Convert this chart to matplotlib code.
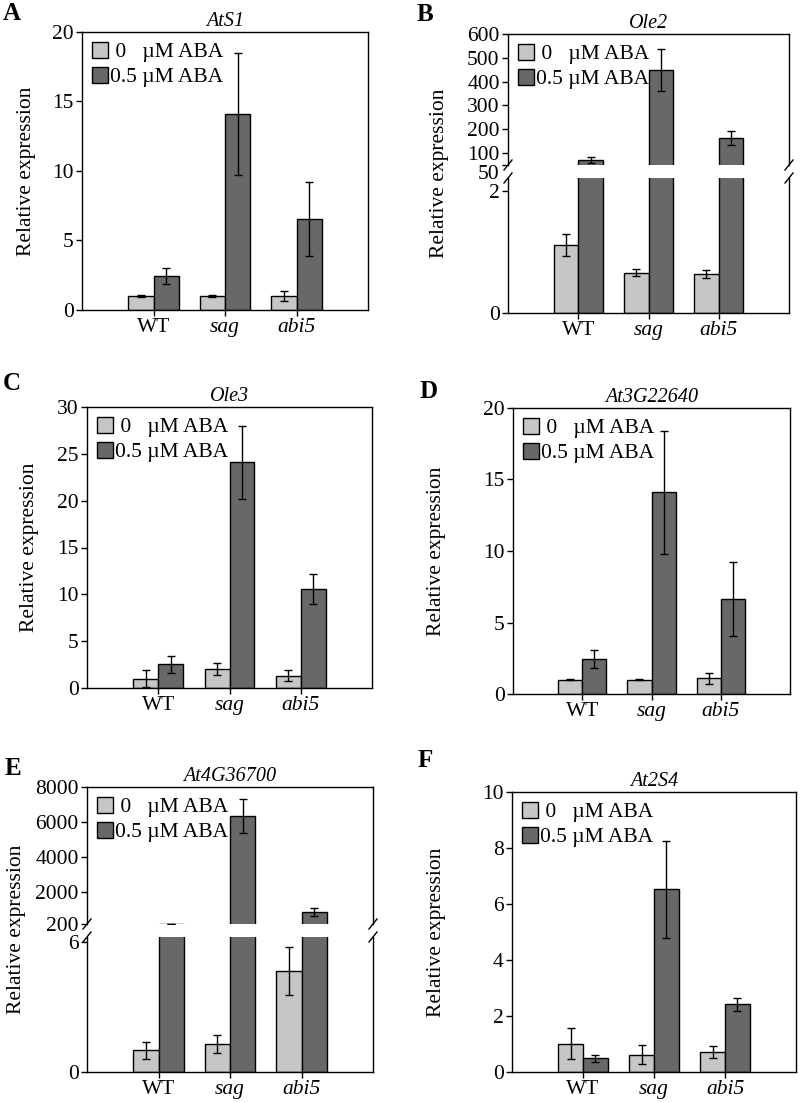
import matplotlib
matplotlib.use("Agg")
import matplotlib.pyplot as plt
import numpy as np
from matplotlib.lines import Line2D

plt.rcParams['font.family'] = ['Liberation Serif', 'DejaVu Serif']
plt.rcParams['font.size'] = 15.5

genotypes = ["WT", "sag", "abi5"]
labels = [" 0   \u00b5M ABA", "0.5 \u00b5M ABA"]

ats1_ctrl = [1.0, 1.0, 1.0]
ats1_ctrl_err = [0.05, 0.05, 0.35]
ats1_aba = [2.45, 14.1, 6.55]
ats1_aba_err = [0.6, 4.4, 2.65]

ole2_ctrl = [1.11, 0.66, 0.64]
ole2_ctrl_err = [0.18, 0.06, 0.07]
ole2_aba = [71, 449, 163]
ole2_aba_err = [14, 87, 30]

ole3_ctrl = [1.0, 2.03, 1.32]
ole3_ctrl_err = [0.9, 0.62, 0.55]
ole3_aba = [2.53, 24.1, 10.6]
ole3_aba_err = [0.9, 3.9, 1.6]

at3g_ctrl = [1.0, 1.0, 1.1]
at3g_ctrl_err = [0.05, 0.03, 0.37]
at3g_aba = [2.45, 14.1, 6.65]
at3g_aba_err = [0.6, 4.3, 2.6]

at4g_ctrl = [1.0, 1.3, 4.67]
at4g_ctrl_err = [0.4, 0.42, 1.1]
at4g_aba = [220, 6370, 900]
at4g_aba_err = [0, 970, 220]

at2s4_ctrl = [1.01, 0.62, 0.72]
at2s4_ctrl_err = [0.56, 0.35, 0.21]
at2s4_aba = [0.49, 6.52, 2.42]
at2s4_aba_err = [0.13, 1.73, 0.23]

LIGHT = "#c6c6c6"
DARK = "#686868"
W = 0.35
FW, FH = 800, 1103

fig = plt.figure(figsize=(8, 11.03), dpi=100)


def px_axes(left, top, right, bottom):
    return fig.add_axes([left / FW, 1 - bottom / FH, (right - left) / FW, (bottom - top) / FH])


def draw_bars(ax, ctrl, ctrl_err, aba, aba_err):
    x = np.arange(len(genotypes))
    ekw = dict(ecolor="black", elinewidth=1, capsize=3, capthick=1)
    ax.bar(x - W / 2, ctrl, W, yerr=ctrl_err, color=LIGHT, edgecolor="black",
           linewidth=1, error_kw=ekw, label=labels[0])
    ax.bar(x + W / 2, aba, W, yerr=aba_err, color=DARK, edgecolor="black",
           linewidth=1, error_kw=ekw, label=labels[1])
    ax.set_xlim(-1.0, 3.0)
    ax.tick_params(direction="out", length=4, width=1, pad=2)
    for s in ax.spines.values():
        s.set_linewidth(1)


def set_xlabels(ax):
    ax.set_xticks(np.arange(len(genotypes)))
    ax.set_xticklabels(genotypes)
    for t in ax.get_xticklabels():
        if t.get_text() != "WT":
            t.set_fontstyle("italic")


def add_legend(ax):
    ax.legend(loc="upper left", frameon=False, handlelength=0.75, handleheight=0.77,
              handletextpad=0.1, labelspacing=0.2, borderaxespad=0.25,
              borderpad=0.2)


def place_ylabel(ax, left, right, top, bottom, center_px, y_frac):
    ax.set_ylabel("Relative expression")
    ax.yaxis.set_label_coords((center_px + 11 - left) / (right - left), y_frac)


def simple_panel(box, ctrl, ctrl_err, aba, aba_err, ymax, step, title, label_px):
    left, top, right, bottom = box
    ax = px_axes(*box)
    draw_bars(ax, ctrl, ctrl_err, aba, aba_err)
    ax.set_ylim(0, ymax)
    ax.set_yticks(np.arange(0, ymax + step / 2, step))
    set_xlabels(ax)
    place_ylabel(ax, left, right, top, bottom, label_px, 0.5)
    ax.set_title(title, fontstyle="italic", fontsize=14.5, pad=4)
    add_legend(ax)
    return ax


def broken_panel(left, right, top, mid_hi, mid_lo, bottom, ctrl, ctrl_err, aba, aba_err,
                 lo_max, lo_ticks, hi_lim, hi_ticks, title, label_px, shift_first=False):
    ax_hi = px_axes(left, top, right, mid_hi)
    ax_lo = px_axes(left, mid_lo, right, bottom)
    for ax in (ax_hi, ax_lo):
        draw_bars(ax, ctrl, ctrl_err, aba, aba_err)
    ax_lo.set_ylim(0, lo_max)
    ax_lo.set_yticks(lo_ticks)
    ax_hi.set_ylim(*hi_lim)
    ax_hi.set_yticks(hi_ticks)
    if shift_first:
        ax_hi.yaxis.get_major_ticks()[0].label1.set_verticalalignment("top")
    ax_hi.spines["bottom"].set_visible(False)
    ax_lo.spines["top"].set_visible(False)
    ax_hi.set_xticks([])
    set_xlabels(ax_lo)
    y_frac = (bottom - (top + bottom) / 2) / (bottom - mid_lo)
    place_ylabel(ax_lo, left, right, mid_lo, bottom, label_px, y_frac)
    ax_hi.set_title(title, fontstyle="italic", fontsize=14.5, pad=4)
    add_legend(ax_hi)
    # break marks
    for xs in (left, right):
        for ys in (mid_hi, mid_lo):
            fig.add_artist(Line2D([(xs - 4) / FW, (xs + 4) / FW],
                                  [1 - (ys + 5) / FH, 1 - (ys - 5) / FH],
                                  color="black", linewidth=1, transform=fig.transFigure))
    return ax_hi, ax_lo


simple_panel((82, 32, 368, 310), ats1_ctrl, ats1_ctrl_err, ats1_aba, ats1_aba_err,
             20, 5, "AtS1", 25)

broken_panel(508, 789, 34, 165, 178, 312.7, ole2_ctrl, ole2_ctrl_err, ole2_aba, ole2_aba_err,
             2.22, [0, 2], (50, 600), [50, 100, 200, 300, 400, 500, 600], "Ole2",
             438, shift_first=True)

simple_panel((87, 407, 372, 688), ole3_ctrl, ole3_ctrl_err, ole3_aba, ole3_aba_err,
             30, 5, "Ole3", 28)

simple_panel((513, 408, 790, 694), at3g_ctrl, at3g_ctrl_err, at3g_aba, at3g_aba_err,
             20, 5, "At3G22640", 435)

broken_panel(87, 373, 787, 924, 937, 1072, at4g_ctrl, at4g_ctrl_err, at4g_aba, at4g_aba_err,
             6.25, [0, 6], (200, 8000), [200, 2000, 4000, 6000, 8000], "At4G36700",
             15)

simple_panel((512, 792, 796, 1072), at2s4_ctrl, at2s4_ctrl_err, at2s4_aba, at2s4_aba_err,
             10, 2, "At2S4", 435)

for letter, x, y in [("A", 3, 20), ("B", 417, 21), ("C", 3, 390), ("D", 420, 398),
                     ("E", 5, 775), ("F", 418, 767)]:
    fig.text(x / FW, 1 - y / FH, letter, fontsize=18, fontweight="bold")

fig.savefig("out.png", dpi=100)
